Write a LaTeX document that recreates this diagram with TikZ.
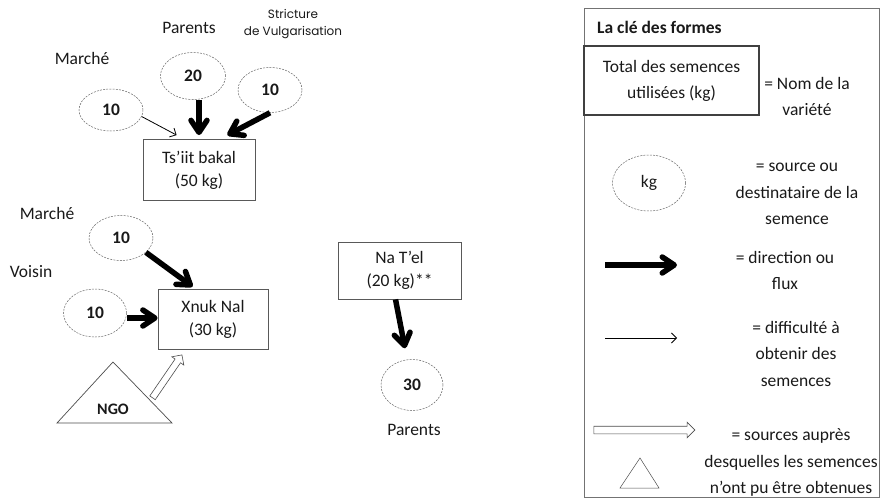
\documentclass[tikz,border=0pt]{standalone}
\usepackage{fontspec}
\setmainfont{Carlito}
\newfontfamily\gothic{Poppins}
\usetikzlibrary{arrows.meta,shapes.geometric,shapes.arrows,calc}
\begin{document}
\begin{tikzpicture}[x=1pt,y=-1pt,
  every node/.style={font=\fontsize{17.5}{23}\selectfont, inner sep=0pt, text=black!90},
  varbox/.style={draw=black!65, line width=0.8pt, align=center},
  src/.style={ellipse, draw=black!60, line width=0.5pt, dash pattern=on 2pt off 1.2pt, font=\fontsize{17.5}{21}\selectfont\bfseries},
  flow/.style={line width=5.5pt, -{Straight Barb[length=12pt,width=16pt,round]}},
  hard/.style={line width=0.8pt, -{Straight Barb[length=5pt,width=10pt]}},
  hollow/.style={single arrow, draw=black!70, line width=0.6pt, inner sep=3pt, single arrow head extend=4pt, single arrow head indent=0pt, minimum height=#1},
  keytext/.style={align=center, font=\fontsize{17.5}{26.5}\selectfont},
  tri/.style={draw=black!70, line width=0.7pt, line join=miter}
]
\useasboundingbox (0,0) rectangle (880,498);

% ---- top group
\node (mk1) at (82,58) {Marché};
\node (par1) at (189,28) {Parents};
\node[font=\gothic\fontsize{12}{17}\selectfont, align=center] (svg) at (293,24) {Stricture\\de Vulgarisation};
\node[src, minimum width=64pt, minimum height=42pt] (e1) at (111,110) {10};
\node[src, minimum width=65pt, minimum height=47pt] (e2) at (193,76) {20};
\node[src, minimum width=64pt, minimum height=45pt] (e3) at (270,90) {10};
\node[varbox, minimum width=112pt, minimum height=61pt] (ts) at (199,170) {Ts’iit bakal\\(50 kg)};

\draw[hard] (e1.-12) -- ([xshift=34pt,yshift=4pt]ts.north west);
\draw[flow] (e2.south -| ts.north) -- ([yshift=4pt]ts.north);
\draw[flow] (e3.south) -- ([xshift=-28pt,yshift=4pt]ts.north east);

% ---- middle group
\node (mk2) at (47,213) {Marché};
\node[src, minimum width=64pt, minimum height=45pt] (e4) at (121,238) {10};
\node (vois) at (31,272) {Voisin};
\node[src, minimum width=63pt, minimum height=48pt] (e5) at (95,313) {10};
\node[varbox, minimum width=110pt, minimum height=60pt] (xn) at (213,319) {Xnuk Nal\\(30 kg)};

\draw[flow] (e4.-30) -- ([xshift=35pt,yshift=2pt]xn.north west);
\draw[flow] ([yshift=-5pt]e5.east) -- ([yshift=-5pt]e5.east -| xn.west);

\coordinate (ngoL) at (57,423);
\coordinate (ngoT) at (113,362);
\coordinate (ngoB) at (172,423);
\draw[tri] (ngoL) -- (ngoT) -- (ngoB) -- cycle;
\node[font=\fontsize{16}{20}\selectfont\bfseries] (ngo) at (113,409) {NGO};
\coordinate (ngoR) at (151,400);
\path (ngoR) -- ([xshift=24pt,yshift=-6pt]xn.south west) node[midway, sloped, hollow=52pt] (ngoarrow) {};

% ---- right group
\node[varbox, minimum width=123pt, minimum height=57pt] (nt) at (399.5,270.5) {Na T’el\\(20 kg)**};
\node[src, minimum width=62pt, minimum height=51pt] (e6) at (412,385) {30};
\node (par2) at (414,430) {Parents};
\draw[flow] ([xshift=-4pt]nt.south) -- ([xshift=-7pt,yshift=11pt]e6.north);

% ---- legend
\node[draw=black!55, line width=0.8pt, minimum width=295pt, minimum height=489pt] (key) at (731.5,252.5) {};
\node[anchor=west, font=\fontsize{17.5}{21}\selectfont\bfseries] (ktitle) at (597,27) {La clé des formes};
\node[varbox, line width=1.4pt, draw=black!75, minimum width=175pt, minimum height=69pt, font=\fontsize{17.5}{26}\selectfont] (kbox) at (671.5,80.5) {Total des semences\\utilisées (kg)};
\node[keytext] (kt1) at (807,96.5) {= Nom de la\\variété};
\node[src, font=\fontsize{17.5}{21}\selectfont, minimum width=73pt, minimum height=56pt] (kell) at (649,183) {kg};
\node[keytext] (kt2) at (797,194) {= source ou\\destinataire de la\\semence};
\coordinate (k1a) at (605,265);
\coordinate (k1b) at (677,265);
\draw[flow] (k1a) -- (k1b);
\node[keytext] (kt3) at (785,270.5) {= direction ou\\flux};
\coordinate (k2a) at (605,338);
\coordinate (k2b) at (677,338);
\draw[hard] (k2a) -- (k2b);
\node[keytext] (kt4) at (796,353.5) {= difficulté à\\obtenir des\\semences};
\coordinate (k3a) at (592,430);
\coordinate (k3b) at (693,430);
\path (k3a) -- (k3b) node[midway, sloped, hollow=101pt, inner sep=3.5pt] (karrow) {};
\node[keytext] (kt5) at (791,462.5) {= sources auprès\\desquelles les semences\\n’ont pu être obtenues};
\coordinate (ktL) at (620,488);
\coordinate (ktT) at (640,458);
\coordinate (ktR) at (659,488);
\draw[tri, line width=0.5pt] (ktL) -- (ktT) -- (ktR) -- cycle;
\end{tikzpicture}
\end{document}
